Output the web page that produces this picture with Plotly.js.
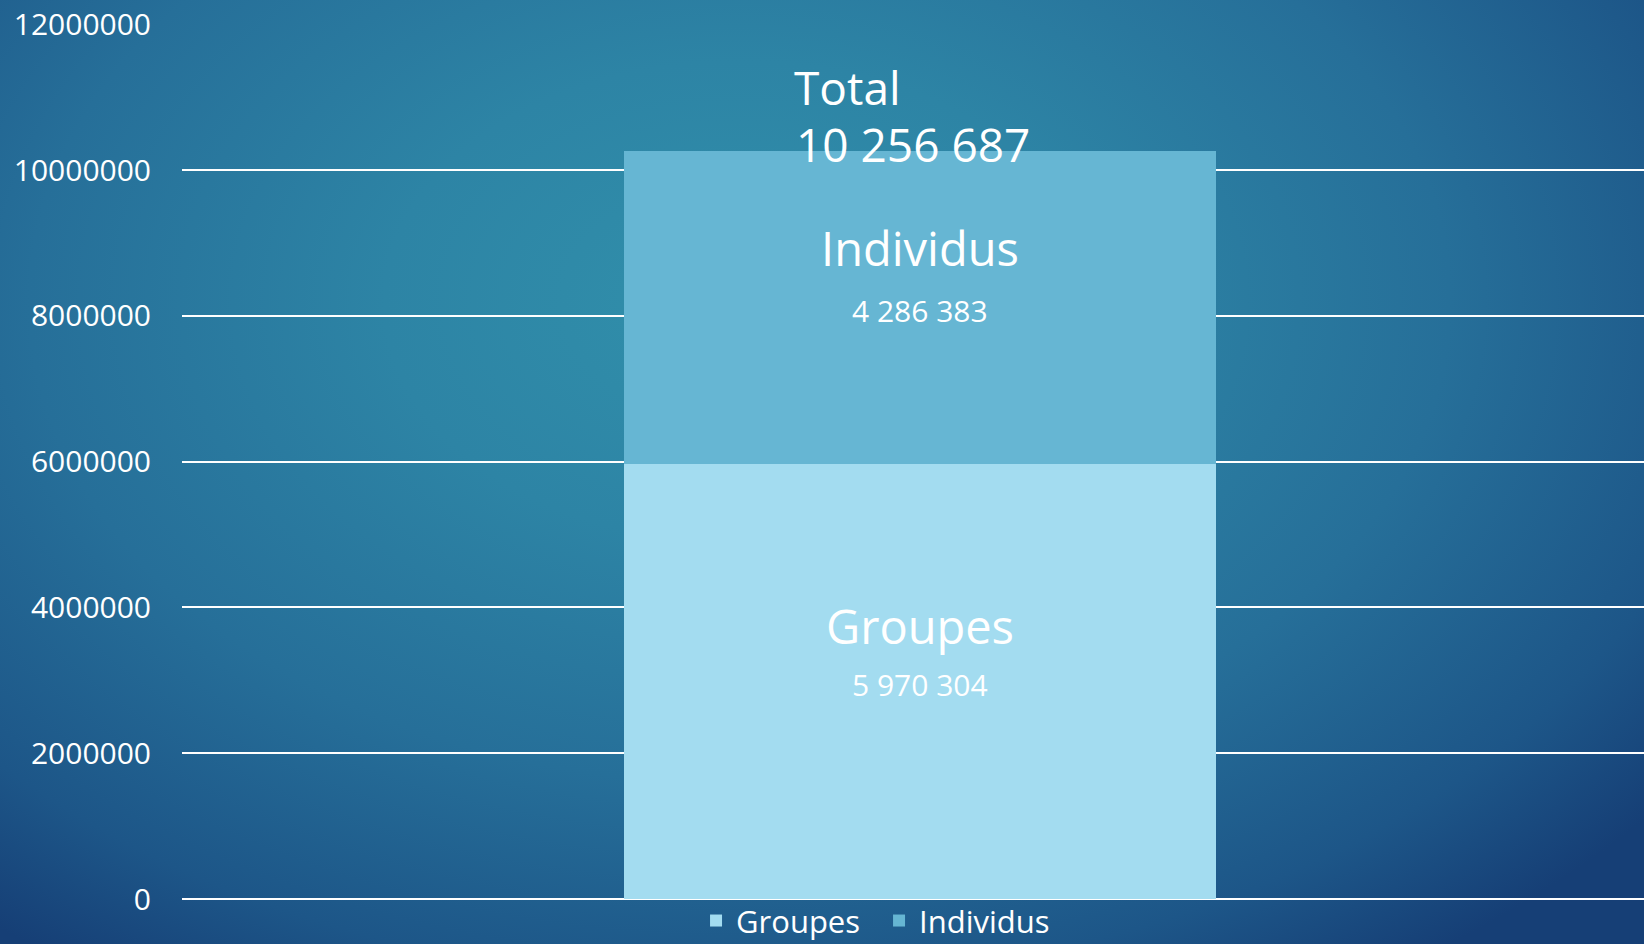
<!DOCTYPE html>
<html>
<head>
<meta charset="utf-8">
<script src="https://cdn.plot.ly/plotly-3.0.1.min.js"></script>
<style>
  html, body { margin: 0; padding: 0; }
  body {
    width: 1644px; height: 944px; overflow: hidden;
    background: radial-gradient(ellipse 72% 85% at 45% 32%, #3190ab 0%, #2d84a5 30%, #266f99 60%, #1d5688 85%, #163f76 100%);
  }
  #chart { width: 1644px; height: 944px; }
</style>
</head>
<body>
<div id="chart"></div>
<script>
// ---- data ----
const categories = [0];
const seriesNames = ['Groupes', 'Individus'];
const groupes = [5970304];
const individus = [4286383];
const totalLabel = 'Total';
const yTicks = [0, 2000000, 4000000, 6000000, 8000000, 10000000, 12000000];

const total = groupes[0] + individus[0];
function fmt(n) { return String(n).replace(/\B(?=(\d{3})+(?!\d))/g, ' '); }

const FONT = '"Open Sans", "DejaVu Sans", sans-serif';
const colGroupes = '#a3dcf0';
const colIndividus = '#66b6d3';

const traces = [
  { type: 'bar', name: seriesNames[0], x: categories, y: groupes, width: 0.405,
    marker: { color: colGroupes }, hoverinfo: 'skip' },
  { type: 'bar', name: seriesNames[1], x: categories, y: individus, width: 0.405,
    marker: { color: colIndividus }, hoverinfo: 'skip' }
];

const x0 = categories[0];
const annotations = [
  { x: x0, y: groupes[0] / 2, text: seriesNames[0], yshift: 55, font: { size: 47, color: '#ffffff', family: FONT } },
  { x: x0, y: groupes[0] / 2, text: fmt(groupes[0]), yshift: -3, font: { size: 30, color: '#ffffff', family: FONT } },
  { x: x0, y: groupes[0] + individus[0] / 2, text: seriesNames[1], yshift: 60, font: { size: 47, color: '#ffffff', family: FONT } },
  { x: x0, y: groupes[0] + individus[0] / 2, text: fmt(individus[0]), yshift: -3, font: { size: 30, color: '#ffffff', family: FONT } },
  { x: x0, y: total, text: totalLabel, xanchor: 'left', xshift: -128, yshift: 64, font: { size: 46, color: '#ffffff', family: FONT } },
  { x: x0, y: total, text: fmt(total), xanchor: 'left', xshift: -126, yshift: 7, font: { size: 46, color: '#ffffff', family: FONT } }
].map(a => Object.assign({ xref: 'x', yref: 'y', showarrow: false, yanchor: 'middle', xanchor: a.xanchor || 'center' }, a));

const layout = {
  width: 1644, height: 944,
  margin: { l: 182, r: 0, t: 24, b: 45, pad: 0, autoexpand: false },
  paper_bgcolor: 'rgba(0,0,0,0)',
  plot_bgcolor: 'rgba(0,0,0,0)',
  barmode: 'stack',
  showlegend: true,
  font: { family: FONT, color: '#ffffff' },
  xaxis: { type: 'linear', range: [-0.505, 0.495], showgrid: false, zeroline: false,
           showticklabels: false, showline: false, fixedrange: true },
  yaxis: { range: [0, 12005000], tickvals: yTicks, tickformat: 'd',
           showgrid: true, gridcolor: '#ffffff', gridwidth: 2,
           zeroline: true, zerolinecolor: '#ffffff', zerolinewidth: 2,
           showline: false, ticks: 'outside', ticklen: 24, tickcolor: 'rgba(0,0,0,0)',
           tickfont: { size: 30, color: '#ffffff', family: FONT }, fixedrange: true },
  legend: { orientation: 'h', x: 0.3516, xanchor: 'left', y: -0.025, yanchor: 'middle',
            entrywidth: 138, entrywidthmode: 'pixels',
            font: { size: 31, color: '#ffffff', family: FONT }, bgcolor: 'rgba(0,0,0,0)',
            traceorder: 'normal', itemclick: false, itemdoubleclick: false },
  annotations: annotations
};

Plotly.newPlot('chart', traces, layout, { staticPlot: true, displayModeBar: false });
</script>
</body>
</html>
